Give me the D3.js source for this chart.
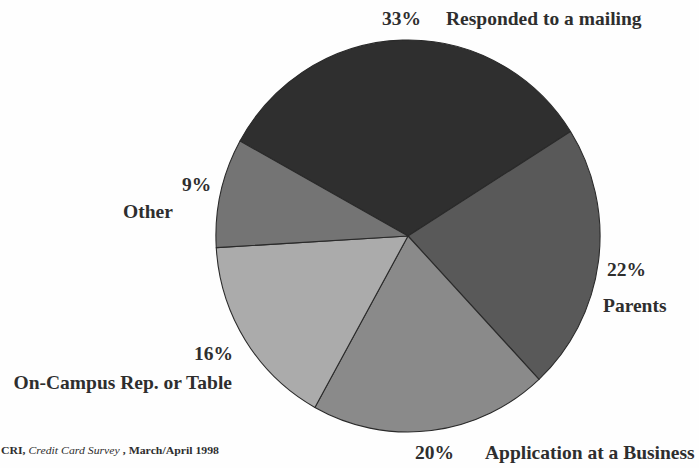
<!DOCTYPE html>
<html>
<head>
<meta charset="utf-8">
<script src="https://cdn.jsdelivr.net/npm/d3@7"></script>
<style>
html,body{margin:0;padding:0;background:#fefefe;}
svg{display:block;}
text{font-family:"Liberation Serif","Times New Roman",serif;font-weight:bold;fill:#2e2e2e;}
</style>
</head>
<body>
<svg id="chart" width="699" height="468"></svg>
<script>
const categories = ["Responded to a mailing", "Parents", "Application at a Business", "On-Campus Rep. or Table", "Other"];
const values = [33, 22, 20, 16, 9];
const percentLabels = ["33%", "22%", "20%", "16%", "9%"];
const fills = ["#2f2f2f", "#595959", "#8a8a8a", "#ababab", "#747474"];
const sourceNote = ["CRI, ", "Credit Card Survey", " , March/April 1998"];

// layout (positions only)
const cx = 408, cy = 236, r = 196, sx = 0.98;
const pctPos = [[382, 25, "start"], [607, 276, "start"], [415, 459, "start"], [233, 360, "end"], [182, 191, "start"]];
const catPos = [[446, 25, "start"], [603, 312, "start"], [485, 459, "start"], [232, 389, "end"], [123, 218, "start"]];

const svg = d3.select("#chart");
const start = -61 * Math.PI / 180;
const pie = d3.pie().sort(null).startAngle(start).endAngle(start + 2 * Math.PI);
const arc = d3.arc().innerRadius(0).outerRadius(r);
const arcs = pie(values);

const g = svg.append("g").attr("transform", `translate(${cx},${cy}) scale(${sx},1)`);
g.selectAll("path").data(arcs).join("path")
  .attr("d", arc)
  .attr("fill", (d, i) => fills[i])
  .attr("stroke", "#2a2a2a")
  .attr("stroke-width", 1.1)
  .attr("stroke-linejoin", "round");

svg.selectAll("text.pct").data(percentLabels).join("text")
  .attr("class", "pct")
  .attr("x", (d, i) => pctPos[i][0])
  .attr("y", (d, i) => pctPos[i][1])
  .attr("text-anchor", (d, i) => pctPos[i][2])
  .attr("font-size", 19.5)
  .text(d => d);

svg.selectAll("text.cat").data(categories).join("text")
  .attr("class", "cat")
  .attr("x", (d, i) => catPos[i][0])
  .attr("y", (d, i) => catPos[i][1])
  .attr("text-anchor", (d, i) => catPos[i][2])
  .attr("font-size", 19.5)
  .text(d => d);

const src = svg.append("text").attr("x", 1).attr("y", 454).attr("font-size", 11)
  .attr("textLength", 218).attr("lengthAdjust", "spacingAndGlyphs");
src.selectAll("tspan").data(sourceNote).join("tspan")
  .attr("font-style", (d, i) => i === 1 ? "italic" : "normal")
  .attr("font-weight", (d, i) => i === 1 ? "normal" : "bold")
  .text(d => d);
</script>
</body>
</html>
